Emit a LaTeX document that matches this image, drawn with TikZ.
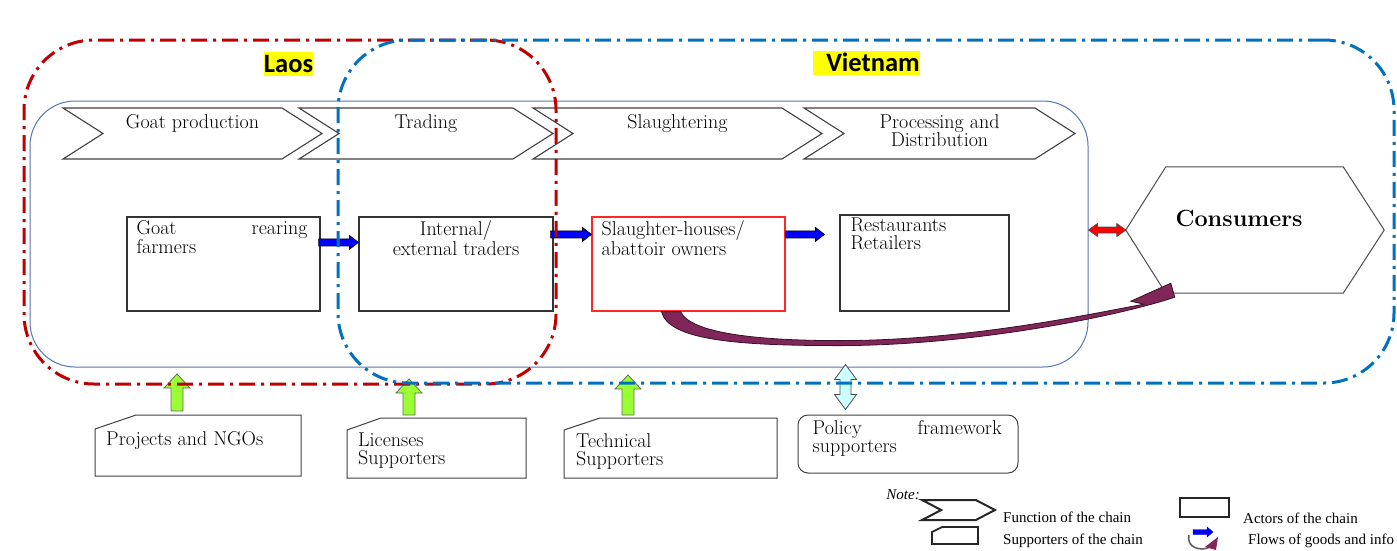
\documentclass[tikz,border=0pt]{standalone}
\usepackage{fontspec}
\newfontfamily\cntryfont{Carlito}
\newfontfamily\notefont{Liberation Serif}
\usetikzlibrary{arrows.meta,positioning,calc,shapes.symbols}
\definecolor{laosred}{RGB}{192,0,0}
\definecolor{vnblue}{RGB}{0,112,192}
\definecolor{chainblue}{RGB}{84,117,180}
\definecolor{fngray}{RGB}{64,64,64}
\definecolor{flowpurp}{RGB}{128,38,88}
\definecolor{supgreen}{RGB}{153,255,51}
\definecolor{polcyan}{RGB}{204,255,255}
\definecolor{hilite}{RGB}{255,255,0}
\newcommand{\suppline}[4][]{\draw[supline,#1] (#2.south west) -- ($(#2.north west)+(0,#4)$) -- ($(#2.north west)+(#3,0)$) -- (#2.north east) -- (#2.south east) -- cycle;}
\tikzset{
  mainfont/.style={font=\fontsize{20}{18}\selectfont},
  region/.style={line width=3, rounded corners=70, dash pattern=on 16pt off 6pt on 3pt off 6pt},
  cntry/.style={fill=hilite, font=\cntryfont\bfseries\fontsize{26.5}{28}\selectfont, inner xsep=0, inner ysep=1, minimum height=24},
  fn/.style={signal, signal to=east, signal from=west, signal pointer angle=65, draw=fngray, line width=1.1, minimum height=51, inner sep=0, outer sep=0},
  fntxt/.style={mainfont, align=center, inner sep=0},
  actor/.style={draw=black!80, line width=1.2, minimum width=193, minimum height=94, inner sep=0},
  acttxt/.style={mainfont, align=left, inner sep=0, anchor=north west},
  supp/.style={inner sep=0, outer sep=0},
  supline/.style={draw=black!75, line width=1},
  legtxt/.style={font=\notefont\fontsize{15}{15}\selectfont, anchor=west, inner sep=0},
  blockarr/.style n args={3}{to path={
    ($(\tikztotarget)!#3pt!(\tikztostart)$) coordinate (bah)
    ($(\tikztostart)!#1pt!90:(\tikztotarget)$)
    -- ($(bah)!#1pt!90:(\tikztotarget)$)
    -- ($(bah)!#2pt!90:(\tikztotarget)$)
    -- (\tikztotarget)
    -- ($(bah)!#2pt!-90:(\tikztotarget)$)
    -- ($(bah)!#1pt!-90:(\tikztotarget)$)
    -- ($(\tikztostart)!#1pt!-90:(\tikztotarget)$)
    -- cycle}},
  dblockarr/.style n args={3}{to path={
    ($(\tikztostart)!#3pt!(\tikztotarget)$) coordinate (bas)
    ($(\tikztotarget)!#3pt!(\tikztostart)$) coordinate (bat)
    (\tikztostart)
    -- ($(bas)!#2pt!90:(\tikztotarget)$)
    -- ($(bas)!#1pt!90:(\tikztotarget)$)
    -- ($(bat)!#1pt!90:(\tikztotarget)$)
    -- ($(bat)!#2pt!90:(\tikztotarget)$)
    -- (\tikztotarget)
    -- ($(bat)!#2pt!-90:(\tikztotarget)$)
    -- ($(bat)!#1pt!-90:(\tikztotarget)$)
    -- ($(bas)!#1pt!-90:(\tikztotarget)$)
    -- ($(bas)!#2pt!-90:(\tikztotarget)$)
    -- cycle}},
  goodsarr/.style={fill=blue, draw=black, line width=0.7, blockarr={3.5}{7}{9}},
  linkarr/.style={fill=red, draw=black!70, line width=0.7, dblockarr={3}{6.5}{9}},
  supparr/.style={fill=supgreen, draw=black!60, line width=0.8, blockarr={6}{13}{14}},
  polarr/.style={fill=polcyan, draw=black!70, line width=0.8, dblockarr={5.5}{11}{15}}
}
\begin{document}
\begin{tikzpicture}[x=1pt, y=-1pt]
  \useasboundingbox (0,0) rectangle (1397,550);
  \node[draw=chainblue, line width=1, rounded corners=45, minimum width=1058, minimum height=266] (chain) at (559,234) {};
  \node[fn, minimum width=259] (fn1) at (192.5,133.5) {};
  \node[fn, minimum width=254] (fn2) at (426,133.5) {};
  \node[fn, minimum width=289] (fn3) at (677.5,133.5) {};
  \node[fn, minimum width=271] (fn4) at (939.5,133.5) {};
  \node[fntxt, below=6pt of fn1.north] (fn1t) {Goat production};
  \node[fntxt, below=6pt of fn2.north] (fn2t) {Trading};
  \node[fntxt, below=6pt of fn3.north] (fn3t) {Slaughtering};
  \node[fntxt, below=6pt of fn4.north] (fn4t) {Processing and\\Distribution};
  \node[actor] (farm) at (223.5,264) {};
  \node[actor, minimum width=194] (trade) at (456,264) {};
  \node[actor, draw=red!85] (slau) at (688.5,264) {};
  \node[actor, minimum width=169, minimum height=96] (rest) at (924.5,263) {};
  \node[acttxt, text width=171] (farmt) at ($(farm.north west)+(10,4)$) {Goat\hfill rearing\\farmers};
  \node[fntxt, below=4pt of trade.north] (tradet) {Internal/\\external traders};
  \node[acttxt] (slaut) at ($(slau.north west)+(10,4)$) {Slaughter-houses/\\abattoir owners};
  \node[acttxt] (restt) at ($(rest.north west)+(11,3)$) {Restaurants\\Retailers};
  \node[minimum width=258, minimum height=126, inner sep=0] (cons) at (1255,230) {};
  \draw[draw=black!70, line width=1] (cons.west) -- ($(cons.north west)+(40,0)$) -- ($(cons.north east)+(-41,0)$) -- (cons.east) -- ($(cons.south east)+(-41,0)$) -- ($(cons.south west)+(40,0)$) -- cycle;
  \node[font=\bfseries\fontsize{23.4}{24}\selectfont, anchor=base, inner sep=0] (const) at ($(cons.center)+(-16,-4)$) {Consumers};
  \coordinate (ba0) at ($(farm.north east)+(-2,26)$);
  \coordinate (ba1) at (ba0 -| trade.west);
  \coordinate (bb0) at ($(trade.north east)+(-3,18)$);
  \coordinate (bb1) at (bb0 -| slau.west);
  \coordinate (bc0) at ($(slau.north east)+(0,18)$);
  \coordinate (bc1) at ($(bc0 -| rest.west)+(-15,0)$);
  \draw[goodsarr] (ba0) to (ba1);
  \draw[goodsarr] (bb0) to (bb1);
  \draw[goodsarr] (bc0) to (bc1);
  \coordinate (rd0) at (chain.east |- cons.west);
  \draw[linkarr] (rd0) to (cons.west);
  \coordinate (hc) at ($(cons.south west)+(40,0)$);
  \fill[flowpurp, draw=black!55!flowpurp, line width=0.8]
    ($(slau.south)+(-8,0)$) .. controls +(10,22) and +(-80,0) .. ($(slau.south)+(151,29)$)
    .. controls +(130,0) and +(-50,9) .. ($(hc)+(-22,11)$)
    -- ($(hc)+(-35,8)$) -- ($(hc)+(5,-10)$) -- ($(hc)+(9,4)$)
    .. controls +(-60,20) and +(130,0) .. ($(slau.south)+(151,34)$)
    .. controls +(-100,0) and +(7,29) .. ($(slau.south)+(-27,0)$) -- cycle;
  \node[supp, minimum width=206, minimum height=61] (ngo) at (198,445.5) {};
  \node[supp, minimum width=179, minimum height=60] (lic) at (436.5,448) {};
  \node[supp, minimum width=213, minimum height=60] (tech) at (670.5,448) {};
  \suppline{ngo}{41}{14}
  \suppline{lic}{34}{12}
  \suppline{tech}{36}{12}
  \node[draw=black!75, line width=1, rounded corners=10, minimum width=220, minimum height=58, inner sep=0] (pol) at (908,444) {};
  \node[acttxt] (ngot) at ($(ngo.north west)+(11,16)$) {Projects and NGOs};
  \node[acttxt] (lict) at ($(lic.north west)+(11,15)$) {Licenses\\Supporters};
  \node[acttxt] (techt) at ($(tech.north west)+(12,15)$) {Technical\\Supporters};
  \node[acttxt, text width=189] (polt) at ($(pol.north west)+(15,6)$) {Policy\hfill framework\\supporters};
  \coordinate (ga0) at ($(ngo.north west)+(82,-4)$);
  \coordinate (ga1) at ($(ga0)+(0,-37)$);
  \coordinate (gb0) at ($(lic.north west)+(62,-3)$);
  \coordinate (gb1) at ($(gb0)+(0,-36)$);
  \coordinate (gc0) at ($(tech.north west)+(64,-3)$);
  \coordinate (gc1) at ($(gc0)+(0,-40)$);
  \draw[supparr] (ga0) to (ga1);
  \draw[supparr] (gb0) to (gb1);
  \draw[supparr] (gc0) to (gc1);
  \coordinate (pa0) at ($(pol.north west)+(48,-5)$);
  \coordinate (pa1) at ($(pa0)+(0,-45)$);
  \draw[polarr] (pa0) to (pa1);
  \node[region, draw=laosred, minimum width=532, minimum height=344] (laosreg) at (290,212) {};
  \node[region, draw=vnblue, minimum width=1056, minimum height=343] (vnreg) at (866,211.5) {};
  \node[cntry] (laos) at (288.5,63.5) {Laos};
  \node[cntry] (vn) at (866.5,62.5) {\hspace*{13pt}Vietnam};
  \node[font=\notefont\itshape\fontsize{15}{15}\selectfont, anchor=east, inner sep=0] (note) at (920,495) {Note:};
  \node[fn, minimum width=73, minimum height=20, signal pointer angle=55, line width=2, draw=black!85] (lfn) at (958.5,510) {};
  \node[supp, minimum width=46, minimum height=17] (lsup) at (955,535.5) {};
  \suppline[line width=1.8, draw=black!85]{lsup}{10}{5}
  \node[draw=black!85, line width=2, minimum width=49, minimum height=19, inner sep=0] (lact) at (1204.5,507.5) {};
  \node[legtxt] (lfnt) at (1003,517) {Function of the chain};
  \node[legtxt] (lsupt) at (1003,541) {Supporters of the chain};
  \node[legtxt] (lactt) at (1243,518) {Actors of the chain};
  \node[legtxt] (lflowt) at (1248,541) {Flows of goods and info};
  \coordinate (lf0) at (1193,532);
  \coordinate (lf1) at ($(lf0)+(20,0)$);
  \draw[fill=blue, draw=blue!60!black, line width=0.4, blockarr={2.5}{5}{6}] (lf0) to (lf1);
  \draw[black!65, line width=1.5] ($(lf0)+(-4,3)$) .. controls +(-3,12) and +(-10,5) .. ($(lf0)+(17,15)$);
  \fill[flowpurp] ($(lf0)+(12,15)$) -- ($(lf0)+(25,5)$) -- ($(lf0)+(23,18)$) -- cycle;
\end{tikzpicture}
\end{document}
